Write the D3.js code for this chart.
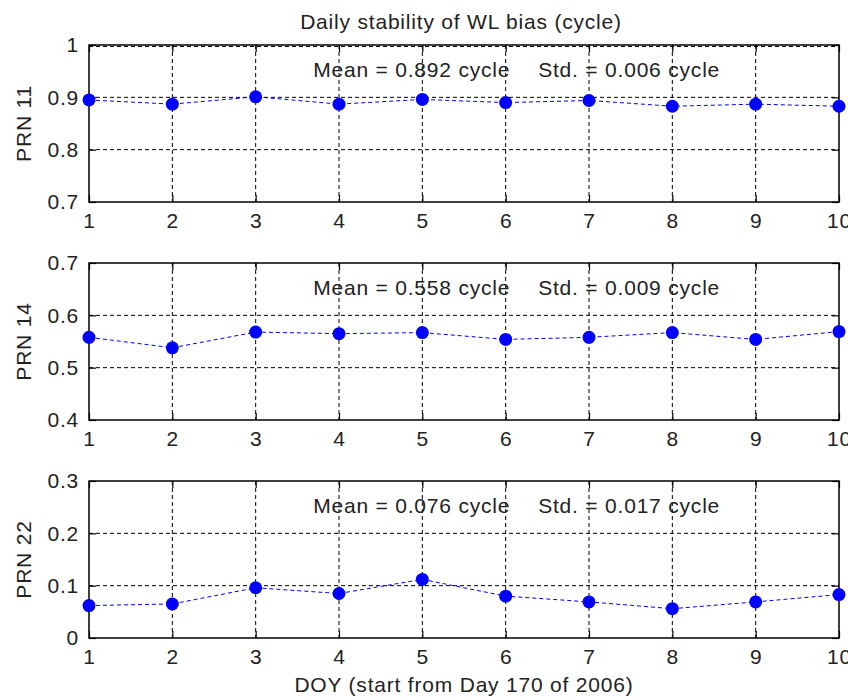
<!DOCTYPE html>
<html>
<head>
<meta charset="utf-8">
<script src="https://cdn.jsdelivr.net/npm/d3@7"></script>
<style>
  body { margin: 0; background: #fff; }
  svg text { font-family: "Liberation Sans", Arial, sans-serif; fill: #222; }
</style>
</head>
<body>
<svg id="chart" width="848" height="699"></svg>
<script>
// data
const days = [1, 2, 3, 4, 5, 6, 7, 8, 9, 10];
const prn11 = [0.895, 0.887, 0.901, 0.887, 0.896, 0.890, 0.894, 0.883, 0.887, 0.883];
const prn14 = [0.558, 0.538, 0.568, 0.565, 0.567, 0.554, 0.558, 0.567, 0.554, 0.569];
const prn22 = [0.062, 0.065, 0.096, 0.085, 0.112, 0.080, 0.069, 0.056, 0.069, 0.083];
const panelNames = ["PRN 11", "PRN 14", "PRN 22"];
const yDomains = [[0.7, 1], [0.4, 0.7], [0, 0.3]];
const meanLabels = ["Mean = 0.892 cycle", "Mean = 0.558 cycle", "Mean = 0.076 cycle"];
const stdLabels = ["Std. = 0.006 cycle", "Std. = 0.009 cycle", "Std. = 0.017 cycle"];
const series = [prn11, prn14, prn22];

const svg = d3.select("#chart");
const left = 89, plotW = 750, plotH = 157;
const tops = [45, 263, 481];
const fontSize = 21, spacing = "0.8px";

const x = d3.scaleLinear().domain([1, 10]).range([left, left + plotW]);

svg.append("text")
  .attr("x", x(5.5) - 3).attr("y", 29)
  .attr("text-anchor", "middle")
  .style("font-size", fontSize + "px").style("letter-spacing", spacing)
  .text("Daily stability of WL bias (cycle)");

series.forEach((vals, i) => {
  const top = tops[i];
  const y = d3.scaleLinear().domain(yDomains[i]).range([top + plotH, top]);
  const yTicks = d3.range(0, 4).map(k => yDomains[i][0] + k * 0.1);
  const g = svg.append("g");

  // grid
  g.selectAll("line.vg").data(days.slice(1, -1)).enter().append("line")
    .attr("x1", d => x(d)).attr("x2", d => x(d))
    .attr("y1", top).attr("y2", top + plotH)
    .attr("stroke", "#000").attr("stroke-width", 1).attr("stroke-dasharray", "4,3");
  g.selectAll("line.hg").data(yTicks.slice(1, -1)).enter().append("line")
    .attr("x1", left).attr("x2", left + plotW)
    .attr("y1", d => y(d)).attr("y2", d => y(d))
    .attr("stroke", "#000").attr("stroke-width", 1).attr("stroke-dasharray", "4,3");

  // axes: labels on bottom/left, inner ticks all around
  const bottom = g.append("g").attr("transform", `translate(0,${top + plotH})`)
    .call(d3.axisBottom(x).tickValues(days).tickSize(-7).tickPadding(11).tickFormat(d3.format("d")));
  const topAx = g.append("g").attr("transform", `translate(0,${top})`)
    .call(d3.axisTop(x).tickValues(days).tickSize(-7).tickFormat(""));
  const leftAx = g.append("g").attr("transform", `translate(${left},0)`)
    .call(d3.axisLeft(y).tickValues(yTicks).tickSize(-7).tickPadding(10).tickFormat(d => String(+d.toFixed(1))));
  const rightAx = g.append("g").attr("transform", `translate(${left + plotW},0)`)
    .call(d3.axisRight(y).tickValues(yTicks).tickSize(-7).tickFormat(""));
  [bottom, topAx, leftAx, rightAx].forEach(a => {
    a.select(".domain").remove();
    a.selectAll(".tick line").attr("stroke", "#000").attr("stroke-width", 1.2);
    a.selectAll(".tick text")
      .style("font-size", fontSize + "px").style("letter-spacing", spacing)
      .attr("fill", "#222");
  });

  // box
  g.append("rect")
    .attr("x", left).attr("y", top).attr("width", plotW).attr("height", plotH)
    .attr("fill", "none").attr("stroke", "#000").attr("stroke-width", 1.5);
  if (i === 0) {
    g.append("line")
      .attr("x1", left).attr("x2", left + plotW)
      .attr("y1", top + 1.5).attr("y2", top + 1.5)
      .attr("stroke", "#000").attr("stroke-width", 1).attr("stroke-dasharray", "4,3");
  }

  // y label
  g.append("text")
    .attr("transform", `translate(31,${top + plotH / 2}) rotate(-90)`)
    .attr("text-anchor", "middle")
    .style("font-size", fontSize + "px").style("letter-spacing", spacing)
    .text(panelNames[i]);

  // line + markers
  const pts = days.map((d, k) => [d, vals[k]]);
  g.append("path")
    .attr("d", d3.line().x(d => x(d[0])).y(d => y(d[1]))(pts))
    .attr("fill", "none").attr("stroke", "#0000ff").attr("stroke-width", 1)
    .attr("stroke-dasharray", "4,3");
  g.selectAll("circle").data(pts).enter().append("circle")
    .attr("cx", d => x(d[0])).attr("cy", d => y(d[1]))
    .attr("r", 6.5).attr("fill", "#0000ff");

  // stats text
  g.append("text")
    .attr("x", x(3.69)).attr("y", top + 32)
    .style("font-size", fontSize + "px").style("letter-spacing", spacing)
    .text(meanLabels[i]);
  g.append("text")
    .attr("x", x(6.39)).attr("y", top + 32)
    .style("font-size", fontSize + "px").style("letter-spacing", spacing)
    .text(stdLabels[i]);
});

svg.append("text")
  .attr("x", x(5.5)).attr("y", 692)
  .attr("text-anchor", "middle")
  .style("font-size", fontSize + "px").style("letter-spacing", spacing)
  .text("DOY (start from Day 170 of 2006)");
</script>
</body>
</html>
